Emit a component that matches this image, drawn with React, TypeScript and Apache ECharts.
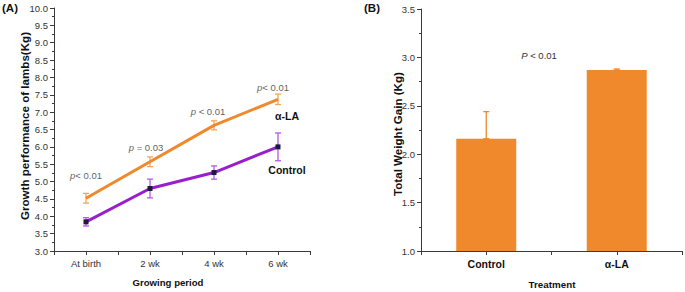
import React, { useEffect, useRef } from "react";
import * as echarts from "echarts";

// Panel A: body weight over the growing period
const periods = ["At birth", "2 wk", "4 wk", "6 wk"];
const controlMean = [3.84, 4.8, 5.26, 6.0];
const controlErr = [0.12, 0.27, 0.19, 0.4];
const alaMean = [4.52, 5.57, 6.62, 7.37];
const alaErr = [0.14, 0.14, 0.13, 0.15];
const pValues = ["< 0.01", "= 0.03", "< 0.01", "< 0.01"];
const pPrefix = ["p", "p ", "p ", "p"];

// Panel B: total weight gain per treatment
const treatments = ["Control", "α-LA"];
const gainMean = [2.16, 2.87];
const gainErr = [0.28, 0.01];

const FONT = "Liberation Sans, Arial, sans-serif";
const ORANGE = "#f0892b";
const ORANGE_ERR = "#f3a55c";
const PURPLE = "#9a1fcc";
const PURPLE_ERR = "#b65ae2";
const AXIS = "#3a3a3a";

function errorBars(color: string, capHalf: number) {
  return (_p: any, api: any) => {
    const x = api.value(0);
    const lo = api.coord([x, api.value(1)]);
    const hi = api.coord([x, api.value(2)]);
    const style = { stroke: color, lineWidth: 1.3 };
    return {
      type: "group",
      children: [
        { type: "line", shape: { x1: lo[0], y1: lo[1], x2: hi[0], y2: hi[1] }, style },
        { type: "line", shape: { x1: hi[0] - capHalf, y1: hi[1], x2: hi[0] + capHalf, y2: hi[1] }, style },
        { type: "line", shape: { x1: lo[0] - capHalf, y1: lo[1], x2: lo[0] + capHalf, y2: lo[1] }, style },
      ],
    };
  };
}

const catFormatter = (names: string[]) => (v: number) => {
  const i = Math.round(v);
  return Math.abs(v - i) < 1e-6 && i >= 0 && i < names.length ? names[i] : "";
};

const axisLineStyle = { onZero: false, lineStyle: { color: AXIS, width: 1 } };

// label shift for each p-value annotation, in px
const pShift = [[0, -9], [-4, 0], [-6, 0], [-5, 2]];

const yAxisBase = {
  type: "value",
  interval: 0.5,
  axisLine: { show: true, ...axisLineStyle },
  axisTick: { show: true, length: 4, lineStyle: { color: AXIS } },
  minorTick: { show: true, splitNumber: 2, length: 2, lineStyle: { color: AXIS } },
  splitLine: { show: false },
  axisLabel: {
    formatter: (v: number) => v.toFixed(1),
    color: "#333",
    fontFamily: FONT,
    fontSize: 9.5,
    margin: 6,
  },
};

const option: any = {
  animation: false,
  grid: [
    { left: 54, top: 8, width: 256, height: 243 },
    { left: 421, top: 9, width: 262, height: 242 },
  ],
  xAxis: [
    {
      gridIndex: 0,
      type: "value",
      min: -0.5,
      max: 3.5,
      interval: 0.5,
      axisLine: axisLineStyle,
      axisTick: { length: 4, lineStyle: { color: AXIS } },
      splitLine: { show: false },
      axisLabel: {
        formatter: catFormatter(periods),
        color: "#333",
        fontFamily: FONT,
        fontSize: 9.5,
        margin: 7,
      },
    },
    {
      gridIndex: 1,
      type: "value",
      min: -0.5,
      max: 1.5,
      interval: 0.5,
      axisLine: axisLineStyle,
      axisTick: { length: 4, lineStyle: { color: AXIS } },
      splitLine: { show: false },
      axisLabel: {
        formatter: catFormatter(treatments),
        color: "#111",
        fontFamily: FONT,
        fontSize: 10.5,
        fontWeight: "bold",
        margin: 7,
      },
    },
  ],
  yAxis: [
    { ...yAxisBase, gridIndex: 0, min: 3, max: 10 },
    { ...yAxisBase, gridIndex: 1, min: 1, max: 3.5 },
  ],
  series: [
    {
      type: "custom",
      xAxisIndex: 0,
      yAxisIndex: 0,
      renderItem: errorBars(ORANGE_ERR, 3),
      data: alaMean.map((m, i) => [i, m - alaErr[i], m + alaErr[i]]),
      z: 2,
    },
    {
      type: "custom",
      xAxisIndex: 0,
      yAxisIndex: 0,
      renderItem: errorBars(PURPLE_ERR, 3),
      data: controlMean.map((m, i) => [i, m - controlErr[i], m + controlErr[i]]),
      z: 2,
    },
    {
      type: "line",
      xAxisIndex: 0,
      yAxisIndex: 0,
      data: alaMean.map((m, i) => [i, m]),
      showSymbol: false,
      symbol: "none",
      lineStyle: { color: ORANGE, width: 3 },
      z: 3,
    },
    {
      type: "line",
      xAxisIndex: 0,
      yAxisIndex: 0,
      data: controlMean.map((m, i) => [i, m]),
      symbol: "rect",
      symbolSize: 5,
      itemStyle: { color: "#1c1840" },
      lineStyle: { color: PURPLE, width: 3 },
      z: 3,
    },
    {
      type: "scatter",
      xAxisIndex: 0,
      yAxisIndex: 0,
      symbolSize: 0,
      silent: true,
      data: alaMean.map((m, i) => ({
        value: [i, m + alaErr[i]],
        label: { offset: pShift[i] },
      })),
      label: {
        show: true,
        position: "top",
        distance: 4,
        formatter: (p: any) => `{i|${pPrefix[p.dataIndex]}}{n|${pValues[p.dataIndex]}}`,
        rich: {
          i: { fontStyle: "italic", fontFamily: FONT, fontSize: 9.5, color: "#333" },
          n: { fontFamily: FONT, fontSize: 9.5, color: "#333" },
        },
      },
    },
    {
      type: "bar",
      xAxisIndex: 1,
      yAxisIndex: 1,
      barWidth: 60,
      data: gainMean.map((m, i) => [i, m]),
      itemStyle: { color: ORANGE },
      z: 2,
    },
    {
      type: "custom",
      xAxisIndex: 1,
      yAxisIndex: 1,
      renderItem: errorBars(ORANGE, 3),
      data: gainMean.map((m, i) => [i, m, m + gainErr[i]]),
      z: 3,
    },
  ],
  graphic: [
    { type: "text", left: 2, top: 2, style: { text: "(A)", font: `bold 11.5px ${FONT}`, fill: "#111" } },
    { type: "text", left: 364, top: 2, style: { text: "(B)", font: `bold 11.5px ${FONT}`, fill: "#111" } },
    {
      type: "text",
      x: 24,
      y: 126,
      rotation: Math.PI / 2,
      style: {
        text: "Growth performance of lambs(Kg)",
        font: `bold 11.6px ${FONT}`,
        fill: "#111",
        align: "center",
        verticalAlign: "middle",
      },
    },
    {
      type: "text",
      x: 168,
      y: 282,
      style: { text: "Growing period", font: `bold 9.6px ${FONT}`, fill: "#111", align: "center", verticalAlign: "middle" },
    },
    {
      type: "text",
      x: 287,
      y: 116,
      style: { text: "α-LA", font: `bold 10.5px ${FONT}`, fill: "#111", align: "center", verticalAlign: "middle" },
    },
    {
      type: "text",
      x: 287,
      y: 170,
      style: { text: "Control", font: `bold 10.5px ${FONT}`, fill: "#111", align: "center", verticalAlign: "middle" },
    },
    {
      type: "text",
      x: 397,
      y: 134,
      rotation: Math.PI / 2,
      style: {
        text: "Total Weight Gain (Kg)",
        font: `bold 11.6px ${FONT}`,
        fill: "#111",
        align: "center",
        verticalAlign: "middle",
      },
    },
    {
      type: "text",
      x: 552,
      y: 284,
      style: { text: "Treatment", font: `bold 9.8px ${FONT}`, fill: "#111", align: "center", verticalAlign: "middle" },
    },
    {
      type: "text",
      x: 539,
      y: 55,
      style: {
        text: "{i|P} < 0.01",
        font: `9.5px ${FONT}`,
        fill: "#333",
        align: "center",
        verticalAlign: "middle",
        rich: { i: { fontStyle: "italic", fontFamily: FONT, fontSize: 9.5, fill: "#333" } },
      },
    },
  ],
};

export default function App() {
  const ref = useRef<HTMLDivElement>(null);
  useEffect(() => {
    const chart = echarts.init(ref.current!, null, { renderer: "svg" });
    chart.setOption(option);
    return () => chart.dispose();
  }, []);
  return (
    <div
      ref={ref}
      style={{ position: "absolute", left: 0, top: 0, width: 685, height: 292, background: "#fff" }}
    />
  );
}
